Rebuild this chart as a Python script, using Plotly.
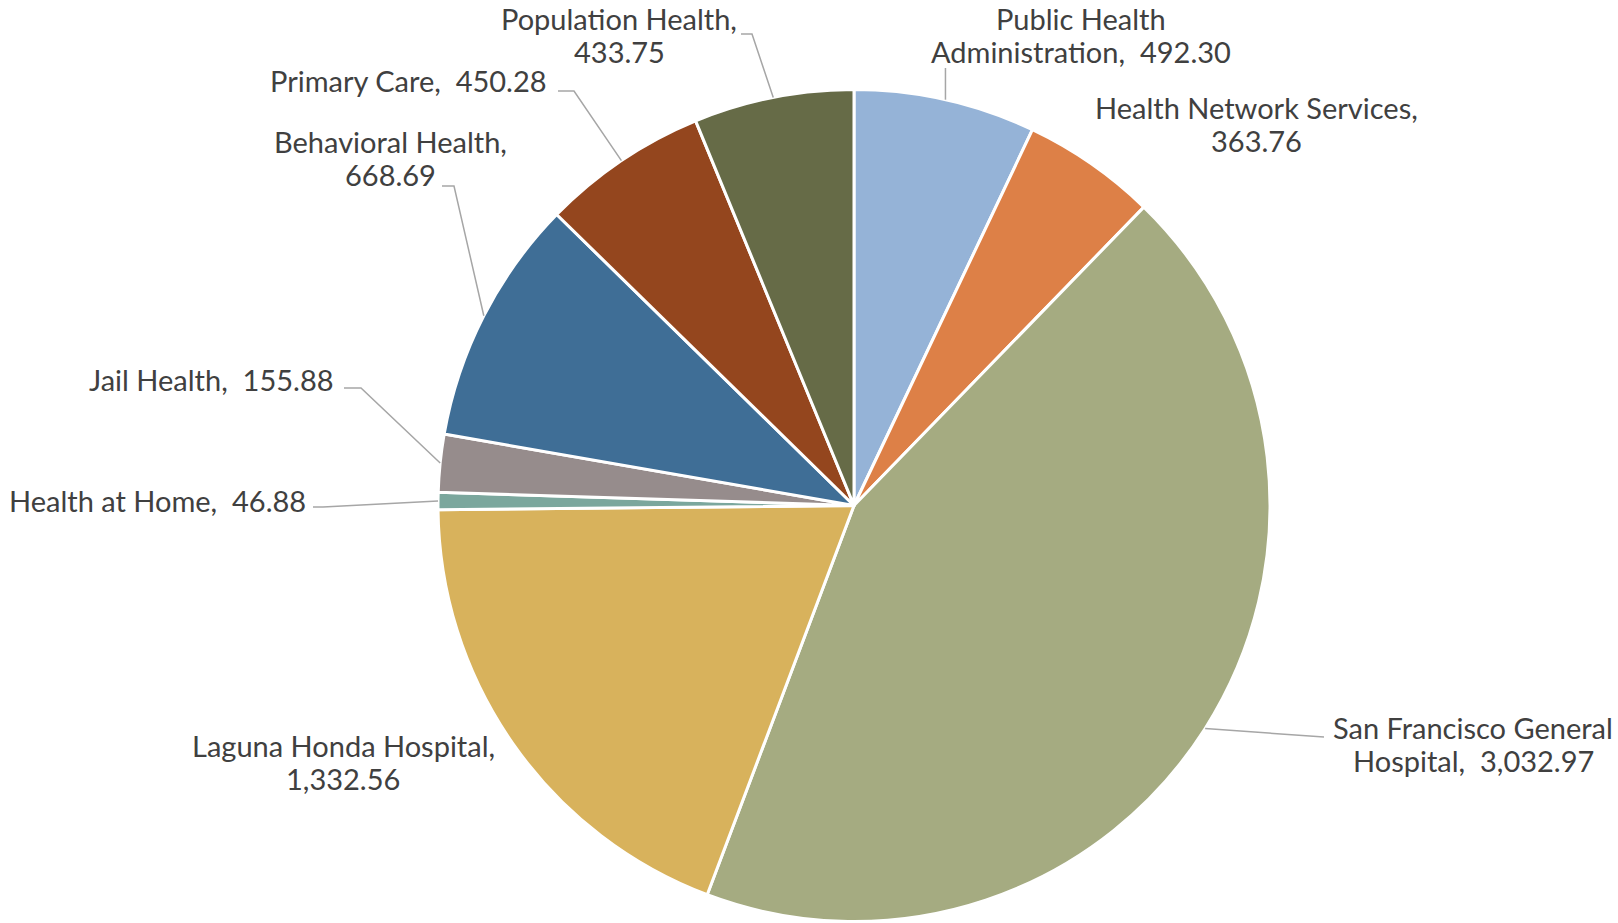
import math
import plotly.graph_objects as go

# ---- data ----
categories = [
    "Public Health Administration",
    "Health Network Services",
    "San Francisco General Hospital",
    "Laguna Honda Hospital",
    "Health at Home",
    "Jail Health",
    "Behavioral Health",
    "Primary Care",
    "Population Health",
]
values = [492.30, 363.76, 3032.97, 1332.56, 46.88, 155.88, 668.69, 450.28, 433.75]
label_lines = [
    ["Public Health", "Administration,  492.30"],
    ["Health Network Services,", "363.76"],
    ["San Francisco General", "Hospital,  3,032.97"],
    ["Laguna Honda Hospital,", "1,332.56"],
    ["Health at Home,  46.88"],
    ["Jail Health,  155.88"],
    ["Behavioral Health,", "668.69"],
    ["Primary Care,  450.28"],
    ["Population Health,", "433.75"],
]

# ---- styles / layout ----
colors = ["#95B3D7", "#DD8047", "#A5AB81", "#D8B25C", "#7BA79D",
          "#968C8C", "#3F6E96", "#94461E", "#666B47"]
W, H = 1618, 923
CX, CY, R = 854, 505.5, 416
TEXT_COLOR = "#404040"
LINE_COLOR = "#A6A6A6"
FONT = "Lato"
FSIZE = 29
LINE_GAP = 33

# label placement (pixel coords: center x, center y of first line)
label_pos = [
    (1081, 18),
    (1256, 107),
    (1473, 727),
    (343, 745),
    (157, 500),
    (211, 379),
    (390, 141),
    (408, 80),
    (619, 18),
]
# leader line label-side points (None = no leader)
leader_pts = [
    [(None, 68)],
    None,
    [(1324, 737)],
    None,
    [(313, 507), (323, 507)],
    [(344, 388), (361, 388)],
    [(442, 186), (454, 186)],
    [(558, 91), (574, 91)],
    [(741, 34), (752, 34)],
]

fig = go.Figure()
fig.add_trace(go.Pie(
    labels=categories, values=values, sort=False, direction="clockwise",
    rotation=0, textinfo="none", hoverinfo="label+value",
    marker=dict(colors=colors, line=dict(color="white", width=3)),
    domain=dict(x=[(CX - R) / W, (CX + R) / W],
                y=[max(0, (H - CY - R) / H), min(1, (H - CY + R) / H)]),
    showlegend=False,
))

total = sum(values)
cum = 0.0
shapes = []
annotations = []
for i, v in enumerate(values):
    mid = (cum + v / 2) / total * 2 * math.pi
    cum += v
    ex = CX + R * math.sin(mid)
    ey = CY - R * math.cos(mid)
    pts = leader_pts[i]
    if pts:
        pts = [(ex if px is None else px, py) for px, py in pts]
        path = "M " + " L ".join(f"{px},{py}" for px, py in pts) + f" L {ex},{ey}"
        shapes.append(dict(type="path", path=path, xref="x", yref="y",
                           line=dict(color=LINE_COLOR, width=1.5)))
    x, y = label_pos[i]
    for j, line in enumerate(label_lines[i]):
        annotations.append(dict(
            x=x, y=y + j * LINE_GAP, xref="x", yref="y",
            text=line.replace("  ", "&nbsp; "), showarrow=False,
            xanchor="center", yanchor="middle",
            font=dict(family=FONT, size=FSIZE, color=TEXT_COLOR),
        ))

fig.update_layout(
    width=W, height=H,
    margin=dict(l=0, r=0, t=0, b=0),
    paper_bgcolor="white", plot_bgcolor="rgba(0,0,0,0)",
    xaxis=dict(range=[0, W], visible=False, fixedrange=True, domain=[0, 1]),
    yaxis=dict(range=[H, 0], visible=False, fixedrange=True, domain=[0, 1]),
    shapes=shapes, annotations=annotations,
)
fig.write_html(
    "out.html",
    config={"displayModeBar": False},
    post_script="document.body.style.margin='0';document.body.style.overflow='hidden';",
)
